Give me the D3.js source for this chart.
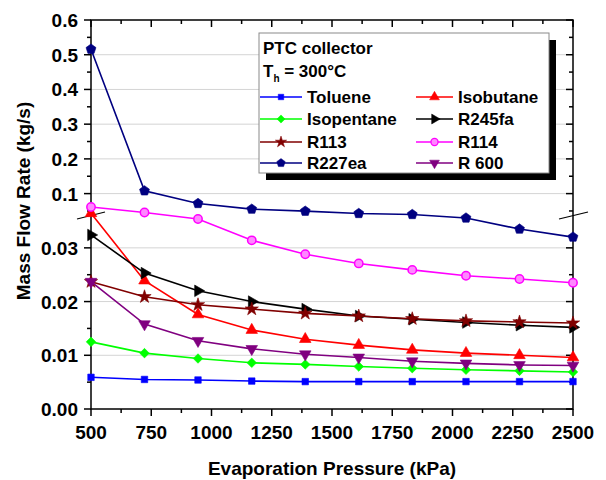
<!DOCTYPE html>
<html>
<head>
<meta charset="utf-8">
<style>
body { margin: 0; background: #fff; }
text { font-family: "Liberation Sans", Arial, sans-serif; font-weight: bold; fill: #000; }
</style>
</head>
<body>
<div id="chart"></div>
<script src="https://cdn.jsdelivr.net/npm/d3@7"></script>
<script>

// evaporation pressure (kPa)
var pressures = [500, 722, 944, 1167, 1389, 1611, 1833, 2056, 2278, 2500];

// mass flow rate (kg/s)
var toluene    = [0.0059, 0.0055, 0.0054, 0.0052, 0.0051, 0.0051, 0.0051, 0.0051, 0.0051, 0.0051];
var isobutane  = [0.0433, 0.0239, 0.0176, 0.0147, 0.0130, 0.0119, 0.0110, 0.0104, 0.0100, 0.0096];
var isopentane = [0.0125, 0.0104, 0.0094, 0.0086, 0.0083, 0.0079, 0.0076, 0.0073, 0.0071, 0.0069];
var r245fa     = [0.0324, 0.0253, 0.0220, 0.0200, 0.0186, 0.0173, 0.0167, 0.0161, 0.0156, 0.0152];
var r113       = [0.0237, 0.0209, 0.0194, 0.0186, 0.0178, 0.0173, 0.0168, 0.0164, 0.0162, 0.0160];
var r114       = [0.0614, 0.0456, 0.0352, 0.0314, 0.0288, 0.0271, 0.0259, 0.0248, 0.0242, 0.0235];
var r227ea     = [0.516, 0.108, 0.0716, 0.0552, 0.0494, 0.0428, 0.0399, 0.0353, 0.0335, 0.0320];
var r600       = [0.0237, 0.0158, 0.0127, 0.0112, 0.0102, 0.0096, 0.0089, 0.0085, 0.0082, 0.0081];

var xTicks = [500, 750, 1000, 1250, 1500, 1750, 2000, 2250, 2500];
var yTicksUpper = [0.1, 0.2, 0.3, 0.4, 0.5, 0.6];
var yTicksLower = [0.00, 0.01, 0.02, 0.03];
var yMinorUpper = [0.05, 0.15, 0.25, 0.35, 0.45, 0.55];
var yMinorLower = [0.005, 0.015, 0.025];

var series = [
	{ name: 'Toluene',    values: toluene,    color: '#0000ff', fill: '#0000ff', marker: 'square' },
	{ name: 'Isobutane',  values: isobutane,  color: '#ff0000', fill: '#ff0000', marker: 'up' },
	{ name: 'Isopentane', values: isopentane, color: '#00ff00', fill: '#00ff00', marker: 'diamond' },
	{ name: 'R245fa',     values: r245fa,     color: '#000000', fill: '#000000', marker: 'right' },
	{ name: 'R113',       values: r113,       color: '#800000', fill: '#800000', marker: 'star' },
	{ name: 'R114',       values: r114,       color: '#ff00ff', fill: '#ff88ff', marker: 'circle' },
	{ name: 'R227ea',     values: r227ea,     color: '#000080', fill: '#000080', marker: 'pentagon' },
	{ name: 'R 600',      values: r600,       color: '#800080', fill: '#800080', marker: 'down' }
];

var width = 606, height = 480;
var plot = { left: 91, right: 573, top: 20, bottom: 409 };

var svg = d3.select('#chart').append('svg')
	.attr('width', width)
	.attr('height', height);

var x = d3.scaleLinear().domain([500, 2500]).range([plot.left, plot.right]);
// broken axis: 0 - 0.035 below the break, 0.0355 - 0.6 above
var y = d3.scaleLinear()
	.domain([0, 0.035, 0.0355, 0.6])
	.range([plot.bottom, 221, 216, plot.top]);

function pentagon(r)
{
	var pts = [];
	for (var i = 0; i < 5; i++) {
		var a = -Math.PI / 2 + i * 2 * Math.PI / 5;
		pts.push([r * Math.cos(a), r * Math.sin(a)]);
	}
	return 'M' + pts.map(function(p) { return p[0].toFixed(2) + ',' + p[1].toFixed(2); }).join('L') + 'Z';
}

function markerPath(type)
{
	switch (type) {
		case 'square':  return d3.symbol(d3.symbolSquare, 42)();
		case 'up':
		case 'right':
		case 'down':    return d3.symbol(d3.symbolTriangle, 58)();
		case 'diamond': return d3.symbol(d3.symbolDiamond2, 58)();
		case 'star':    return d3.symbol(d3.symbolStar, 55)();
		case 'circle':  return d3.symbol(d3.symbolCircle, 55)();
		case 'pentagon': return pentagon(5.2);
	}
}

function markerRotate(type)
{
	if (type === 'right') return 90;
	if (type === 'down') return 180;
	return 0;
}

// grid lines
var grid = svg.append('g');
yTicksUpper.concat(yTicksLower).forEach(function(v) {
	if (v === 0 || v === 0.6) return;
	grid.append('line')
		.attr('x1', plot.left).attr('x2', plot.right)
		.attr('y1', y(v)).attr('y2', y(v))
		.attr('stroke', '#d4d4d4').attr('stroke-width', 1);
});

// axes and ticks
var ax = svg.append('g').attr('stroke', '#000').attr('stroke-width', 1.5);
ax.append('rect')
	.attr('x', plot.left).attr('y', plot.top)
	.attr('width', plot.right - plot.left).attr('height', plot.bottom - plot.top)
	.attr('fill', 'none');

var xMinor = xTicks.slice(0, -1).map(function(d) { return d + 125; });

xTicks.forEach(function(d) {
	ax.append('line').attr('x1', x(d)).attr('x2', x(d)).attr('y1', plot.bottom).attr('y2', plot.bottom + 7);
	ax.append('line').attr('x1', x(d)).attr('x2', x(d)).attr('y1', plot.top).attr('y2', plot.top + 7);
});
xMinor.forEach(function(d) {
	ax.append('line').attr('x1', x(d)).attr('x2', x(d)).attr('y1', plot.bottom).attr('y2', plot.bottom + 4);
	ax.append('line').attr('x1', x(d)).attr('x2', x(d)).attr('y1', plot.top).attr('y2', plot.top + 4);
});

yTicksUpper.concat(yTicksLower).forEach(function(v) {
	ax.append('line').attr('x1', plot.left - 7).attr('x2', plot.left).attr('y1', y(v)).attr('y2', y(v));
	ax.append('line').attr('x1', plot.right - 7).attr('x2', plot.right).attr('y1', y(v)).attr('y2', y(v));
});
yMinorUpper.concat(yMinorLower).forEach(function(v) {
	ax.append('line').attr('x1', plot.left - 4).attr('x2', plot.left).attr('y1', y(v)).attr('y2', y(v));
	ax.append('line').attr('x1', plot.right - 4).attr('x2', plot.right).attr('y1', y(v)).attr('y2', y(v));
});

// break marks
var brk = svg.append('g').attr('stroke', '#000').attr('stroke-width', 1.2);
brk.append('line').attr('x1', plot.left - 14).attr('y1', 219).attr('x2', plot.left + 14).attr('y2', 212);
brk.append('line').attr('x1', plot.right - 14).attr('y1', 219).attr('x2', plot.right + 15).attr('y2', 212);

// tick labels
svg.append('g').selectAll('text')
	.data(xTicks).enter().append('text')
		.attr('x', function(d) { return x(d); })
		.attr('y', 439)
		.attr('text-anchor', 'middle')
		.style('font-size', '19px')
		.text(function(d) { return d; });

svg.append('g').selectAll('text')
	.data(yTicksUpper).enter().append('text')
		.attr('x', 78)
		.attr('y', function(d) { return y(d) + 7; })
		.attr('text-anchor', 'end')
		.style('font-size', '19px')
		.text(function(d) { return d.toFixed(1); });

svg.append('g').selectAll('text')
	.data(yTicksLower).enter().append('text')
		.attr('x', 78)
		.attr('y', function(d) { return y(d) + 7; })
		.attr('text-anchor', 'end')
		.style('font-size', '19px')
		.text(function(d) { return d.toFixed(2); });

// axis titles
svg.append('text')
	.attr('x', (plot.left + plot.right) / 2)
	.attr('y', 475)
	.attr('text-anchor', 'middle')
	.style('font-size', '19px')
	.text('Evaporation Pressure (kPa)');

svg.append('text')
	.attr('transform', 'translate(30,201) rotate(-90)')
	.attr('text-anchor', 'middle')
	.style('font-size', '19px')
	.text('Mass Flow Rate (kg/s)');

// series
var line = d3.line()
	.x(function(d, i) { return x(pressures[i]); })
	.y(function(d) { return y(d); });

series.forEach(function(s) {
	var g = svg.append('g');
	g.append('path')
		.attr('d', line(s.values))
		.attr('fill', 'none')
		.attr('stroke', s.color)
		.attr('stroke-width', 1.6);
	g.selectAll('path.m')
		.data(s.values).enter().append('path')
			.attr('class', 'm')
			.attr('d', markerPath(s.marker))
			.attr('transform', function(d, i) {
				return 'translate(' + x(pressures[i]) + ',' + y(d) + ') rotate(' + markerRotate(s.marker) + ')';
			})
			.attr('fill', s.fill)
			.attr('stroke', s.color)
			.attr('stroke-width', s.marker === 'circle' ? 1.5 : 0.6);
});

// legend
var lg = svg.append('g');
var box = { x: 259, y: 33, w: 290, h: 140 };
lg.append('rect')
	.attr('x', box.x + 7).attr('y', box.y + 7)
	.attr('width', box.w).attr('height', box.h)
	.attr('fill', '#000');
lg.append('rect')
	.attr('x', box.x).attr('y', box.y)
	.attr('width', box.w).attr('height', box.h)
	.attr('fill', '#fff')
	.attr('stroke', '#8a8a8a').attr('stroke-width', 1);

lg.append('text')
	.attr('x', 263).attr('y', 54)
	.style('font-size', '17px')
	.text('PTC collector');

var th = lg.append('text')
	.attr('x', 263).attr('y', 77)
	.style('font-size', '17px');
th.append('tspan').text('T');
th.append('tspan').attr('dy', 5).style('font-size', '10px').text('h');
th.append('tspan').attr('dy', -5).text(' = 300°C');

var rowY = [97, 119, 142, 163];
var cols = [
	{ x1: 260, x2: 302, tx: 307 },
	{ x1: 416, x2: 453, tx: 458 }
];

series.forEach(function(s, i) {
	var c = cols[i % 2];
	var yy = rowY[Math.floor(i / 2)];
	var mx = (c.x1 + c.x2) / 2;
	lg.append('line')
		.attr('x1', c.x1).attr('x2', c.x2)
		.attr('y1', yy).attr('y2', yy)
		.attr('stroke', s.color).attr('stroke-width', 1.6);
	lg.append('path')
		.attr('d', markerPath(s.marker))
		.attr('transform', 'translate(' + mx + ',' + yy + ') rotate(' + markerRotate(s.marker) + ') scale(0.85)')
		.attr('fill', s.fill)
		.attr('stroke', s.color)
		.attr('stroke-width', s.marker === 'circle' ? 1.5 : 0.6);
	lg.append('text')
		.attr('x', c.tx).attr('y', yy + 6)
		.style('font-size', '17px')
		.text(s.name);
});

</script>
</body>
</html>
